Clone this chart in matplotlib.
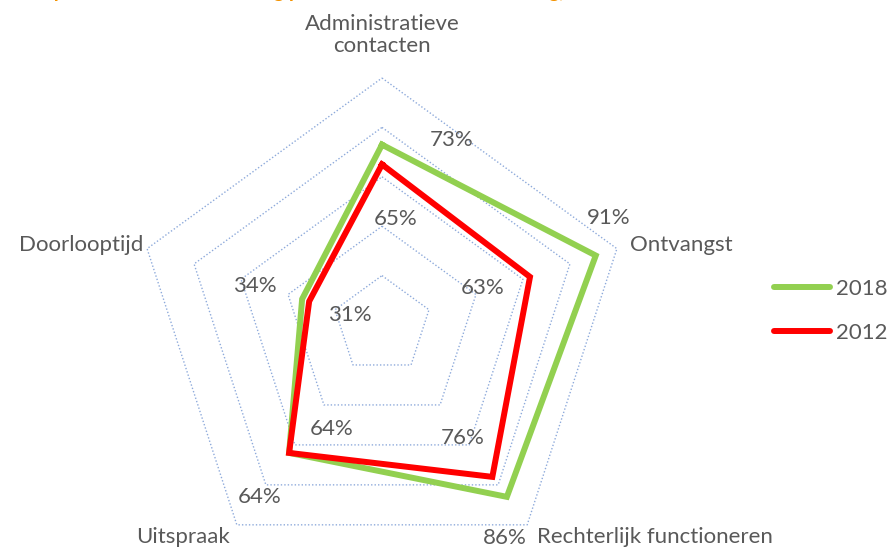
# Radar chart: beoordeling per aspect, 2018 vs 2012

import numpy as np
import matplotlib

matplotlib.use("Agg")
import matplotlib.pyplot as plt

categories = [
    "Administratieve\ncontacten",
    "Ontvangst",
    "Rechterlijk functioneren",
    "Uitspraak",
    "Doorlooptijd",
]
values_2018 = [0.73, 0.91, 0.86, 0.64, 0.34]
values_2012 = [0.65, 0.63, 0.76, 0.64, 0.31]
ring_levels = [0.2, 0.4, 0.6, 0.8, 1.0]
series_labels = ["2018", "2012"]

GREY = "#595959"
GRID = "#8eaadb"
GREEN = "#92d050"
RED = "#ff0000"
ORANGE = "#f39200"
FS = 16

plt.rcParams["font.family"] = ["Lato", "DejaVu Sans"]

W, H = 891, 547
cx, cy, R = 382, 325, 247  # pixel centre and radius of the outer ring

fig = plt.figure(figsize=(W / 100, H / 100), dpi=100)
ax = fig.add_axes([0, 0, 1, 1])
ax.set_xlim(-cx / R, (W - cx) / R)
ax.set_ylim(-(H - cy) / R, cy / R)
ax.axis("off")

# axes go clockwise from the top
angles = np.pi / 2 - np.arange(len(categories)) * 2 * np.pi / len(categories)


def to_xy(vals):
    v = np.asarray(vals + vals[:1])
    a = np.append(angles, angles[0])
    return v * np.cos(a), v * np.sin(a)


# pentagon grid
for lvl in ring_levels:
    gx, gy = to_xy([lvl] * len(categories))
    ax.plot(gx, gy, color=GRID, lw=1.0, linestyle=(0, (1, 1.5)), zorder=1)

# series
x18, y18 = to_xy(values_2018)
x12, y12 = to_xy(values_2012)
ax.plot(x18, y18, color=GREEN, lw=4.3, solid_joinstyle="miter", zorder=3, label=series_labels[0])
ax.plot(x12, y12, color=RED, lw=4.3, solid_joinstyle="miter", zorder=4, label=series_labels[1])

# data labels (pixel offsets from the point)
offs_2018 = [(70, 5), (13, 38), (-2, -41), (-29, -44), (-47, 13)]
offs_2012 = [(14, -55), (-47, -11), (-30, 39), (43, 24), (41, -14)]
for vals, offs in [(values_2018, offs_2018), (values_2012, offs_2012)]:
    px, py = to_xy(vals)
    for i, v in enumerate(vals):
        ax.annotate(f"{v:.0%}", xy=(px[i], py[i]), xytext=offs[i],
                    textcoords="offset pixels", ha="center", va="center",
                    fontsize=FS, color=GREY, zorder=5)

# category labels
lab_pos = [
    ((382 - cx) / R, (cy - 35) / R, "center"),
    ((630 - cx) / R, (cy - 245) / R, "left"),
    ((537 - cx) / R, (cy - 537) / R, "left"),
    ((230 - cx) / R, (cy - 537) / R, "right"),
    ((143 - cx) / R, (cy - 245) / R, "right"),
]
for name, (lx, ly, ha) in zip(categories, lab_pos):
    ax.text(lx, ly, name, ha=ha, va="center", fontsize=FS, color=GREY,
            multialignment="center", linespacing=1.15)

# title, mostly cut off at the top edge as in the source
fig.text(0.0, 1.003, "Score per onderdeel beoordeling per rechtbank en klantbeleving, 2012 en 2018",
         ha="left", va="baseline", fontsize=14, fontweight="bold", color=ORANGE)

leg = ax.legend(loc="center left", bbox_to_anchor=(774 / W, 1 - 311 / H),
                bbox_transform=fig.transFigure, frameon=False, fontsize=FS,
                handlelength=2.5, handletextpad=0.3, labelspacing=1.1,
                borderpad=0, borderaxespad=0)
for t in leg.get_texts():
    t.set_color(GREY)
for h in leg.get_lines():
    h.set_solid_capstyle("round")

fig.savefig("out.png", dpi=100)
